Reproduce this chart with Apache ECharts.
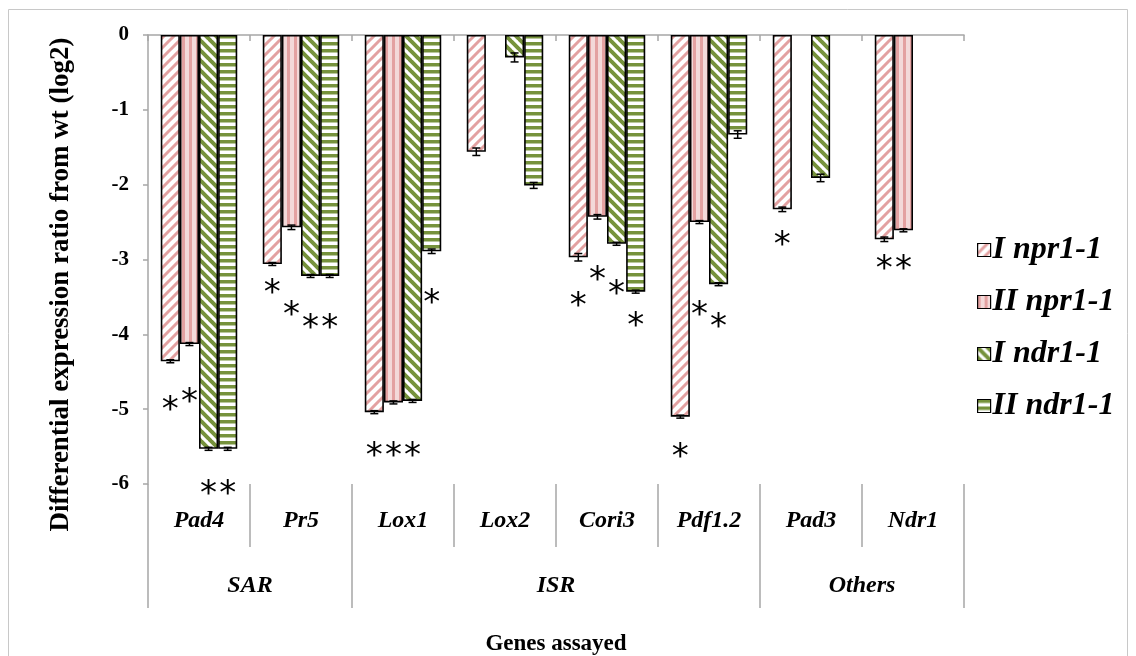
<!DOCTYPE html>
<html>
<head>
<meta charset="utf-8">
<script src="https://cdn.jsdelivr.net/npm/echarts@6/dist/echarts.min.js"></script>
<style>
  html, body { margin: 0; padding: 0; background: #fff; }
  #chart { width: 1136px; height: 656px; }
</style>
</head>
<body>
<div id="chart"></div>
<script>
// genes on the category axis and the groups they belong to
var genes = ['Pad4', 'Pr5', 'Lox1', 'Lox2', 'Cori3', 'Pdf1.2', 'Pad3', 'Ndr1'];
var groups = ['SAR', 'ISR', 'Others'];
var groupSizes = [2, 4, 2];

var seriesNames = ['I npr1-1', 'II npr1-1', 'I ndr1-1', 'II ndr1-1'];

// log2 ratio from wt
var iNpr = [-4.36, -3.06, -5.04, -1.56, -2.97, -5.10, -2.33, -2.73];
var iiNpr = [-4.13, -2.57, -4.91, null, -2.43, -2.50, null, -2.61];
var iNdr = [-5.53, -3.22, -4.89, -0.30, -2.79, -3.33, -1.91, null];
var iiNdr = [-5.53, -3.22, -2.89, -2.01, -3.43, -1.33, null, null];

// error bars (+/-)
var iNprErr = [0.02, 0.02, 0.02, 0.05, 0.05, 0.02, 0.03, 0.03];
var iiNprErr = [0.02, 0.03, 0.02, null, 0.03, 0.02, null, 0.02];
var iNdrErr = [0.02, 0.02, 0.02, 0.06, 0.02, 0.02, 0.05, null];
var iiNdrErr = [0.02, 0.02, 0.03, 0.04, 0.02, 0.05, null, null];

// where the significance asterisks sit (value units)
var iNprStar = [-4.89, -3.33, -5.51, null, -3.50, -5.52, -2.69, -3.01];
var iiNprStar = [-4.78, -3.63, -5.51, null, -3.15, -3.63, null, -3.01];
var iNdrStar = [-6.01, -3.80, -5.51, null, -3.34, -3.78, null, null];
var iiNdrStar = [-6.01, -3.80, -3.47, null, -3.77, null, null, null];

var yTicks = [0, -1, -2, -3, -4, -5, -6];

var values = [iNpr, iiNpr, iNdr, iiNdr];
var errors = [iNprErr, iiNprErr, iNdrErr, iiNdrErr];
var stars = [iNprStar, iiNprStar, iNdrStar, iiNdrStar];

var pink = '#e3a1a1';
var green = '#76923c';
var serif = 'Liberation Serif';
var gridCol = '#a6a6a6';

// hatch tiles like the excel pattern fills
function tile(kind, color) {
    var c = document.createElement('canvas');
    var s = (kind === 'up' || kind === 'down') ? 10 : 7;
    c.width = s; c.height = s;
    var ctx = c.getContext('2d');
    ctx.fillStyle = '#fff';
    ctx.fillRect(0, 0, s, s);
    ctx.fillStyle = color;
    ctx.strokeStyle = color;
    if (kind === 'vert') {
        ctx.fillStyle = '#f3d9d9';
        ctx.fillRect(0, 0, s, s);
        ctx.fillStyle = color;
        ctx.fillRect(0, 0, 3, s);
    } else if (kind === 'horiz') {
        ctx.fillRect(0, 0, s, 3.5);
    } else {
        ctx.lineWidth = kind === 'up' ? 3 : 4;
        ctx.beginPath();
        for (var k = -1; k <= 1; k++) {
            if (kind === 'up') {
                ctx.moveTo(k * s - 1, s + 1); ctx.lineTo(k * s + s + 1, -1);
            } else {
                ctx.moveTo(k * s - 1, -1); ctx.lineTo(k * s + s + 1, s + 1);
            }
        }
        ctx.stroke();
    }
    return { image: c, repeat: 'repeat' };
}

var fills = [tile('up', pink), tile('vert', pink), tile('down', green), tile('horiz', green)];

var groupEdges = [0];
var groupCenters = [];
groupSizes.forEach(function (n) {
    var last = groupEdges[groupEdges.length - 1];
    groupCenters.push(last + n / 2);
    groupEdges.push(last + n);
});

var errData = [];
var starData = [];
for (var s = 0; s < 4; s++) {
    for (var i = 0; i < genes.length; i++) {
        if (values[s][i] != null && errors[s][i] != null) {
            errData.push([i, s, values[s][i], errors[s][i]]);
        }
        if (stars[s][i] != null) {
            starData.push([i, s, stars[s][i]]);
        }
    }
}

var barGapRatio = 0.25;

function barCenter(api, ci, si) {
    var band = api.size([1, 0])[0];
    var bw = band * (1 - barGapRatio) / 4;
    return api.coord([ci, 0])[0] + (si - 1.5) * bw;
}

var series = seriesNames.map(function (name, k) {
    return {
        name: name,
        type: 'bar',
        xAxisIndex: 0,
        data: values[k],
        barGap: '0%',
        barCategoryGap: (barGapRatio * 100) + '%',
        itemStyle: { color: fills[k], borderColor: '#000', borderWidth: 1.6 }
    };
});

series.push({
    type: 'custom',
    xAxisIndex: 0,
    z: 5,
    data: errData,
    encode: { x: 0, y: 2 },
    renderItem: function (params, api) {
        var x = barCenter(api, api.value(0), api.value(1));
        var v = api.value(2), e = api.value(3);
        var y1 = api.coord([api.value(0), v - e])[1];
        var y2 = api.coord([api.value(0), v + e])[1];
        var st = { stroke: '#000', lineWidth: 1.5 };
        return {
            type: 'group',
            children: [
                { type: 'line', shape: { x1: x, y1: y1, x2: x, y2: y2 }, style: st },
                { type: 'line', shape: { x1: x - 4, y1: y1, x2: x + 4, y2: y1 }, style: st },
                { type: 'line', shape: { x1: x - 4, y1: y2, x2: x + 4, y2: y2 }, style: st }
            ]
        };
    }
});

series.push({
    type: 'custom',
    xAxisIndex: 0,
    z: 6,
    data: starData,
    encode: { x: 0, y: 2 },
    renderItem: function (params, api) {
        var x = barCenter(api, api.value(0), api.value(1));
        var y = api.coord([api.value(0), api.value(2)])[1];
        return {
            type: 'text',
            style: {
                text: '*', x: x, y: y + 10,
                align: 'center', verticalAlign: 'middle',
                font: '34px "DejaVu Sans"', fill: '#000'
            }
        };
    }
});

var chart = echarts.init(document.getElementById('chart'));
chart.setOption({
    animation: false,
    backgroundColor: '#fff',
    graphic: [{
        type: 'rect',
        shape: { x: 8.5, y: 9.5, width: 1119, height: 660 },
        style: { fill: 'none', stroke: '#c8c8c8', lineWidth: 1 },
        silent: true
    }],
    grid: { left: 148, top: 35, right: 172, bottom: 172, outerBoundsMode: 'none' },
    legend: {
        orient: 'vertical',
        left: 972,
        top: 229,
        icon: 'rect',
        itemWidth: 13,
        itemHeight: 13,
        itemGap: 20,
        itemStyle: { borderColor: '#000', borderWidth: 1.2 },
        data: seriesNames,
        textStyle: { fontFamily: serif, fontWeight: 'bold', fontStyle: 'italic', fontSize: 32, color: '#000', padding: [0, 0, 0, -3] }
    },
    xAxis: [{
        type: 'category',
        data: genes,
        position: 'bottom',
        axisLine: { show: false, onZero: false },
        axisTick: { show: true, interval: 0, length: 63, lineStyle: { color: gridCol, width: 1.5 } },
        axisLabel: {
            interval: 0, margin: 25,
            fontFamily: serif, fontWeight: 'bold', fontStyle: 'italic', fontSize: 24, color: '#000'
        }
    }, {
        type: 'value',
        min: 0,
        max: genes.length,
        position: 'bottom',
        offset: 63,
        splitLine: { show: false },
        axisLine: { show: false, onZero: false },
        axisTick: { show: true, customValues: groupEdges, length: 61, lineStyle: { color: gridCol, width: 1.5 } },
        axisLabel: {
            customValues: groupCenters, margin: 27,
            formatter: function (v) { return groups[groupCenters.indexOf(v)] || ''; },
            fontFamily: serif, fontWeight: 'bold', fontStyle: 'italic', fontSize: 24, color: '#000'
        },
        name: 'Genes assayed',
        nameLocation: 'middle',
        nameGap: 86,
        nameTextStyle: { fontFamily: serif, fontWeight: 'bold', fontSize: 23, color: '#000' }
    }, {
        type: 'category',
        data: genes,
        position: 'top',
        axisLine: { show: true, onZero: false, lineStyle: { color: gridCol, width: 1.5 } },
        axisTick: { show: true, inside: true, interval: 0, length: 6, lineStyle: { color: gridCol, width: 1.5 } },
        axisLabel: { show: false }
    }],
    yAxis: {
        type: 'value',
        min: yTicks[yTicks.length - 1],
        max: yTicks[0],
        interval: 1,
        splitLine: { show: false },
        axisLine: { show: true, lineStyle: { color: gridCol, width: 1.5 } },
        axisTick: { show: true, length: 5, lineStyle: { color: gridCol, width: 1.5 } },
        axisLabel: { margin: 19, fontFamily: serif, fontWeight: 'bold', fontSize: 21, color: '#000' },
        name: 'Differential expression ratio from wt (log2)',
        nameLocation: 'middle',
        nameGap: 73,
        nameTextStyle: {
            fontFamily: serif, fontWeight: 'bold', fontSize: 27, color: '#000',
            padding: [0, 50, 0, 0]
        }
    },
    series: series
});
</script>
</body>
</html>
